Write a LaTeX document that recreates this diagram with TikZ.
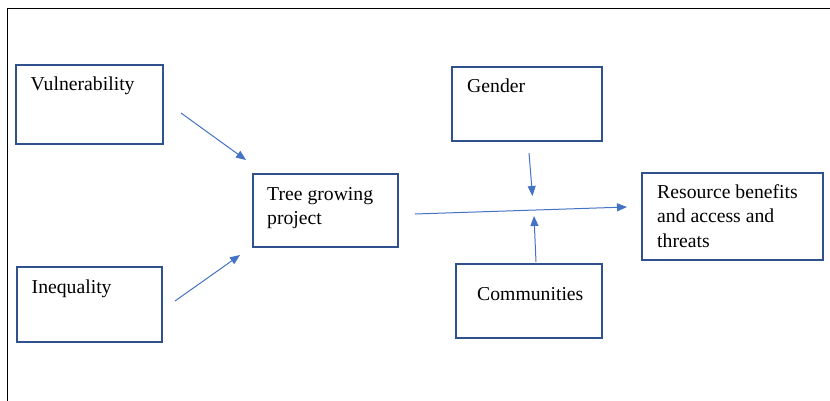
\documentclass[tikz,border=0pt]{standalone}
\usepackage{fontspec}
\setmainfont{Liberation Serif}
\usetikzlibrary{arrows.meta}
\definecolor{boxblue}{HTML}{2F528F}
\definecolor{arrblue}{HTML}{4472C4}
\begin{document}
\begin{tikzpicture}[x=1pt,y=-1pt,
  box/.style={draw=boxblue, line width=1.5pt, rectangle, inner sep=0pt},
  lbl/.style={anchor=base west, inner sep=0pt, align=left, font=\fontsize{19.7}{24.5}\selectfont},
  arr/.style={draw=arrblue, line width=1pt, -{Triangle[length=10pt,width=8pt]}}]
\useasboundingbox (0,0) rectangle (830,401);
% frame
\draw[line width=1.3pt] (7.5,401) -- (7.5,8.5) -- (830,8.5);
% boxes
\node[box, minimum width=147pt, minimum height=79pt] (vul) at (89.5,104.5) {};
\node[box, minimum width=145pt, minimum height=75pt] (ineq) at (89.5,304.5) {};
\node[box, minimum width=145pt, minimum height=73pt] (tree) at (325.5,210.5) {};
\node[box, minimum width=150pt, minimum height=74pt] (gen) at (527,104) {};
\node[box, minimum width=146pt, minimum height=74pt] (com) at (529,301) {};
\node[box, minimum width=181pt, minimum height=87pt] (res) at (732.5,216.5) {};
% labels (base = baseline of the last line)
\node[lbl] (tvul) at (30.5,91) {Vulnerability};
\node[lbl] (tineq) at (31.5,293) {Inequality};
\node[lbl] (ttree) at (267,224.5) {Tree growing\\project};
\node[lbl] (tgen) at (467,93) {Gender};
\node[lbl] (tcom) at (477,300) {Communities};
\node[lbl] (tres) at (657,247) {Resource benefits\\and access and\\threats};
% connector end points
\coordinate (a1) at (181,113);
\coordinate (a2) at (246,160);
\coordinate (b1) at (175,301);
\coordinate (b2) at (240,255);
\coordinate (m1) at (415,214);
\coordinate (m2) at (627,207);
\coordinate (g1) at (529,153);
\coordinate (g2) at (532.5,196);
\coordinate (c1) at (536,262);
\coordinate (c2) at (534,216);
\draw[arr] (a1) -- (a2);
\draw[arr] (b1) -- (b2);
\draw[arr] (m1) -- (m2);
\draw[arr] (g1) -- (g2);
\draw[arr] (c1) -- (c2);
\end{tikzpicture}
\end{document}
